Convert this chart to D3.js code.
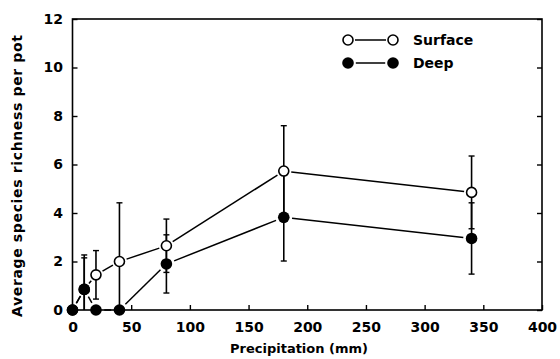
<!DOCTYPE html>
<html>
<head>
<meta charset="utf-8">
<script src="https://cdn.jsdelivr.net/npm/d3@7"></script>
<style>
	body { margin: 0; background: #fff; }
	svg text { font-family: "DejaVu Sans", sans-serif; font-weight: bold; fill: #000; }
</style>
</head>
<body>
<div id="chart"></div>
<script>
// data
const precip = [0, 10, 20, 40, 80, 180, 340];
const surfaceMean = [0, 0.85, 1.45, 2.0, 2.65, 5.73, 4.85];
const surfaceErr = [0, 1.42, 1.0, 2.42, 1.1, 1.87, 1.5];
const deepMean = [0, 0.85, 0, 0, 1.9, 3.82, 2.95];
const deepErr = [0, 1.3, 0, 0, 1.2, 1.8, 1.47];
const xTicks = [0, 50, 100, 150, 200, 250, 300, 350, 400];
const yTicks = [0, 2, 4, 6, 8, 10, 12];
const seriesNames = ['Surface', 'Deep'];

(() => {
	const width = 560;
	const height = 359;
	const margin = { top: 19, right: 18, bottom: 49, left: 72.5 };
	const fontSize = 14;

	const svg = d3.select('#chart').append('svg')
		.attr('width', width)
		.attr('height', height);

	const x = d3.scaleLinear()
		.domain([0, 400])
		.range([margin.left, width - margin.right]);
	const y = d3.scaleLinear()
		.domain([0, 12])
		.range([height - margin.bottom, margin.top]);

	const xAxis = d3.axisBottom(x)
		.tickValues(xTicks)
		.tickSizeInner(-5)
		.tickSizeOuter(0)
		.tickPadding(12);
	const yAxis = d3.axisLeft(y)
		.tickValues(yTicks)
		.tickSizeInner(-5)
		.tickSizeOuter(0)
		.tickPadding(9.5);
	const yAxisRight = d3.axisRight(y)
		.tickValues(yTicks)
		.tickSizeInner(-5)
		.tickSizeOuter(0)
		.tickFormat('');

	const xAxisG = svg.append('g')
		.attr('transform', `translate(0, ${y(0)})`)
		.call(xAxis);
	const yAxisG = svg.append('g')
		.attr('transform', `translate(${x(0)}, 0)`)
		.call(yAxis);
	const yAxisRG = svg.append('g')
		.attr('transform', `translate(${x(400)}, 0)`)
		.call(yAxisRight);

	[xAxisG, yAxisG, yAxisRG].forEach(g => {
		g.select('.domain').remove();
		g.selectAll('line').style('stroke', '#000').style('stroke-width', 1.4);
		g.selectAll('text')
			.style('font-size', fontSize + 'px')
			.attr('font-family', null);
	});

	// frame
	svg.append('rect')
		.attr('x', x(0))
		.attr('y', y(12))
		.attr('width', x(400) - x(0))
		.attr('height', y(0) - y(12))
		.style('fill', 'none')
		.style('stroke', '#000')
		.style('stroke-width', 1.6);

	const rOpen = 5;
	const rFilled = 5.8;
	const gap = 2.5;

	const series = [
		{ name: seriesNames[0], mean: surfaceMean, err: surfaceErr, filled: false },
		{ name: seriesNames[1], mean: deepMean, err: deepErr, filled: true }
	];

	// segments between markers, stopped short of each marker
	function segments(pts, r) {
		const segs = [];
		for (let i = 1; i < pts.length; i++) {
			const [x1, y1] = pts[i - 1];
			const [x2, y2] = pts[i];
			const dx = x2 - x1, dy = y2 - y1;
			const len = Math.hypot(dx, dy);
			const cut = r + gap;
			if (len <= 2 * cut) continue;
			const ux = dx / len, uy = dy / len;
			segs.push([x1 + ux * cut, y1 + uy * cut, x2 - ux * cut, y2 - uy * cut]);
		}
		return segs;
	}

	const errG = svg.append('g');
	const lineG = svg.append('g');
	const markG = svg.append('g');

	series.forEach(s => {
		const r = s.filled ? rFilled : rOpen;
		const data = precip.map((p, i) => ({ p, m: s.mean[i], e: s.err[i] }));

		// error bars
		const bars = data.filter(d => d.e > 0);
		errG.selectAll(null)
			.data(bars)
			.enter().append('line')
			.attr('x1', d => x(d.p))
			.attr('x2', d => x(d.p))
			.attr('y1', d => y(Math.max(0, d.m - d.e)))
			.attr('y2', d => y(d.m + d.e))
			.style('stroke', '#000')
			.style('stroke-width', 1.6);
		errG.selectAll(null)
			.data(bars.flatMap(d => [d.m + d.e, d.m - d.e].filter(v => v > 0).map(v => ({ p: d.p, v }))))
			.enter().append('line')
			.attr('x1', d => x(d.p) - 3)
			.attr('x2', d => x(d.p) + 3)
			.attr('y1', d => y(d.v))
			.attr('y2', d => y(d.v))
			.style('stroke', '#000')
			.style('stroke-width', 1.4);

		// connecting line
		const pts = data.map(d => [x(d.p), y(d.m)]);
		lineG.selectAll(null)
			.data(segments(pts, r))
			.enter().append('line')
			.attr('x1', d => d[0])
			.attr('y1', d => d[1])
			.attr('x2', d => d[2])
			.attr('y2', d => d[3])
			.style('stroke', '#000')
			.style('stroke-width', 1.5);

		// markers
		markG.selectAll(null)
			.data(data)
			.enter().append('circle')
			.attr('cx', d => x(d.p))
			.attr('cy', d => y(d.m))
			.attr('r', s.filled ? rFilled : rOpen)
			.style('fill', s.filled ? '#000' : '#fff')
			.style('stroke', '#000')
			.style('stroke-width', s.filled ? 0 : 1.6);
	});

	// legend
	const legend = svg.append('g');
	series.forEach((s, i) => {
		const ly = 40 + i * 23;
		const r = s.filled ? rFilled : rOpen;
		legend.append('line')
			.attr('x1', 348 + r + 2)
			.attr('x2', 393 - r - 2)
			.attr('y1', ly)
			.attr('y2', ly)
			.style('stroke', '#000')
			.style('stroke-width', 1.5);
		[348, 393].forEach(cx => {
			legend.append('circle')
				.attr('cx', cx)
				.attr('cy', ly)
				.attr('r', r)
				.style('fill', s.filled ? '#000' : '#fff')
				.style('stroke', '#000')
				.style('stroke-width', s.filled ? 0 : 1.6);
		});
		legend.append('text')
			.attr('x', 413)
			.attr('y', ly + 5)
			.style('font-size', fontSize + 'px')
			.text(s.name);
	});

	// axis titles
	svg.append('text')
		.attr('x', 299)
		.attr('y', 353)
		.style('font-size', '13px')
		.style('text-anchor', 'middle')
		.text('Precipitation (mm)');
	svg.append('text')
		.attr('transform', 'translate(22, 176) rotate(-90)')
		.attr('textLength', 282)
		.attr('lengthAdjust', 'spacing')
		.style('font-size', fontSize + 'px')
		.style('text-anchor', 'middle')
		.text('Average species richness per pot');
})();
</script>
</body>
</html>
